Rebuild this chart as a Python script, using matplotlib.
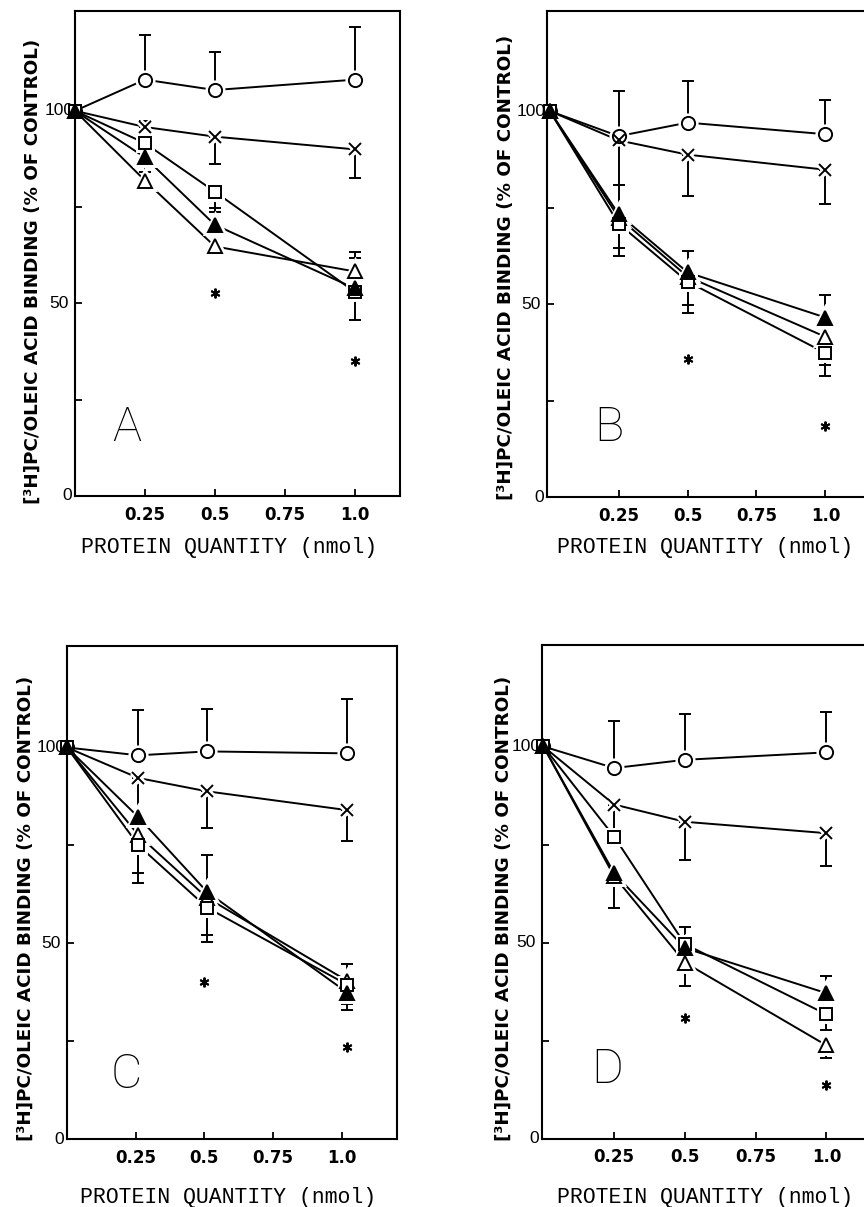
import numpy as np
import matplotlib
matplotlib.use("Agg")
import matplotlib.pyplot as plt
from matplotlib.transforms import offset_copy

nan = np.nan
W, H = 864, 1207  # output size in pixels (dpi 100)

# protein quantity (nmol)
x_dose = [0, 0.25, 0.5, 1.0]
x_dose_c = [0, 0.26, 0.51, 1.02]      # panel C points sit slightly right of the ticks
x_star = [0.5, 1.0]
x_star_c = [0.5, 1.02]
x_ticks = [0.25, 0.5, 0.75, 1.0]
x_tick_labels = ["0.25", "0.5", "0.75", "1.0"]

# series: circle, cross, open square, filled triangle, open triangle
# errors are [down, up]; nan = no bar

# ---- panel A ----
A_circle = [100, 108.1, 105.4, 108.1]
A_cross = [100, 95.8, 93.3, 90.0]
A_square = [100, 91.6, 79.0, 53.0]
A_tri_fill = [100, 87.9, 70.4, 53.9]
A_tri_open = [100, 81.9, 64.8, 58.3]
A_circle_err = [[nan, nan, nan, nan], [nan, 11.5, 9.9, 13.7]]
A_cross_err = [[nan, nan, 7.2, 7.4], [nan, 1.5, nan, nan]]
A_square_err = [[nan, 7.4, 5.2, 7.4], [nan, nan, nan, nan]]
A_tri_fill_err = [[nan, nan, nan, nan], [nan, 1.8, 4.3, 8.0]]
A_tri_open_err = [[nan, nan, nan, nan], [nan, 3.6, nan, 5.1]]
A_star = [52.8, 35.0]

# ---- panel B ----
B_circle = [100, 93.5, 97.0, 94.0]
B_cross = [100, 92.4, 88.7, 84.8]
B_square = [100, 70.8, 55.8, 37.3]
B_tri_fill = [100, 73.3, 58.2, 46.5]
B_tri_open = [100, 72.4, 57.1, 41.5]
B_circle_err = [[nan, nan, nan, nan], [nan, 11.8, 10.8, 8.8]]
B_cross_err = [[nan, 11.6, 10.6, 9.0], [nan, nan, nan, nan]]
B_square_err = [[nan, 8.4, 8.1, 6.0], [nan, nan, nan, nan]]
B_tri_fill_err = [[nan, nan, nan, nan], [nan, 7.5, 5.6, 5.9]]
B_tri_open_err = [[nan, 7.9, 7.3, 7.4], [nan, nan, nan, nan]]
B_star = [35.7, 18.4]

# ---- panel C ----
C_circle = [100, 98.0, 99.0, 98.5]
C_cross = [100, 92.2, 88.8, 84.0]
C_square = [100, 75.0, 59.1, 39.4]
C_tri_fill = [100, 82.2, 63.1, 37.4]
C_tri_open = [100, 77.6, 61.6, 40.4]
C_circle_err = [[nan, nan, nan, nan], [nan, 11.6, 10.9, 13.8]]
C_cross_err = [[nan, nan, 9.3, 7.8], [nan, nan, nan, nan]]
C_square_err = [[nan, 9.5, 8.9, 4.9], [nan, nan, nan, nan]]
C_tri_fill_err = [[nan, nan, nan, 4.4], [nan, 10.0, 9.5, nan]]
C_tri_open_err = [[nan, 9.7, 9.4, nan], [nan, nan, nan, 4.4]]
C_star = [40.2, 23.4]

# ---- panel D ----
D_circle = [100, 94.5, 96.6, 98.5]
D_cross = [100, 85.2, 80.8, 77.9]
D_square = [100, 77.0, 49.6, 31.7]
D_tri_fill = [100, 67.7, 48.6, 37.1]
D_tri_open = [100, 66.9, 44.9, 23.8]
D_circle_err = [[nan, nan, nan, nan], [nan, 12.0, 11.6, 10.4]]
D_cross_err = [[nan, 8.2, 9.8, 8.4], [nan, nan, nan, nan]]
D_square_err = [[nan, 2.4, nan, 4.0], [nan, nan, 4.5, nan]]
D_tri_fill_err = [[nan, 8.9, nan, nan], [nan, nan, nan, 4.4]]
D_tri_open_err = [[nan, nan, 5.9, 3.2], [nan, nan, nan, nan]]
D_star = [30.7, 13.8]

YLABEL = "[³H]PC/OLEIC ACID BINDING (% OF CONTROL)"
XLABEL = "PROTEIN QUANTITY (nmol)"

# marker style per series: (marker, face, size)
STYLES = [("o", "white", 9.5), ("x", "white", 9), ("s", "white", 8.5),
          ("^", "black", 9.5), ("^", "white", 9.5)]
DRAW_ORDER = [0, 1, 4, 2, 3]   # filled triangle last so the x=0 stack looks dark

THIN = ["Roboto", "DejaVu Sans"]
MONO = ["Liberation Mono", "DejaVu Sans Mono"]
plt.rcParams["font.family"] = ["DejaVu Sans"]

fig = plt.figure(figsize=(W / 100, H / 100), dpi=100)


def px_rect(left, top, right, bottom):
    return [left / W, 1 - bottom / H, (right - left) / W, (bottom - top) / H]


def px(x, y):
    return x / W, 1 - y / H


def one_sided(ax, xs, ys, err, side):
    # draw only the bars that exist on one side (0 = down, 1 = up)
    e = np.array(err[side], dtype=float)
    m = ~np.isnan(e)
    if not m.any():
        return
    zero = np.zeros(m.sum())
    yerr = [e[m], zero] if side == 0 else [zero, e[m]]
    ax.errorbar(xs[m], ys[m], yerr=yerr, fmt="none", ecolor="black",
                elinewidth=1.4, capsize=4.5, capthick=1.4, zorder=2)


def panel(rect, xlim, xs, series, errs, stars_x, stars_y, letter, letter_pos,
          ylab_pos, xlab_pos):
    ax = fig.add_axes(rect)
    ax.set_xlim(*xlim)
    ax.set_ylim(0, 126)
    for sp in ax.spines.values():
        sp.set_linewidth(1.5)

    xs = np.array(xs, dtype=float)
    for i in DRAW_ORDER:
        ys = np.array(series[i], dtype=float)
        m, fc, ms = STYLES[i]
        ax.plot(xs, ys, "-", color="black", lw=1.4, zorder=1)
        one_sided(ax, xs, ys, errs[i], 0)
        one_sided(ax, xs, ys, errs[i], 1)
        # white halo so lines stop short of the symbols
        ax.plot(xs[1:], ys[1:], ls="none", marker=m, ms=ms, mfc="white",
                mec="white", mew=5, zorder=3)
        ax.plot(xs, ys, ls="none", marker=m, ms=ms, mfc=fc, mec="black",
                mew=1.4, zorder=4, clip_on=False)

    ax.plot(stars_x, stars_y, ls="none", marker=(6, 2, 0), ms=7, mec="black",
            mew=1.4, zorder=4)

    ax.set_xticks(x_ticks, x_tick_labels)
    ax.tick_params(axis="x", direction="in", length=5, width=1.3, pad=7,
                   labelsize=12)
    for lbl in ax.get_xticklabels():
        lbl.set_fontweight("bold")
    ax.set_yticks([0, 50, 100])
    ax.set_yticks([25, 75], minor=True)
    ax.tick_params(axis="y", which="both", direction="in", length=5,
                   width=1.3, labelleft=False)

    # y tick labels sit close to the spine, "0" closer than the others
    base = ax.get_yaxis_transform()
    for val, off in [(0, -8), (50, -16), (100, -16)]:
        tr = offset_copy(base, fig=fig, x=off, y=0, units="dots")
        ax.text(0, val, str(val), transform=tr, ha="center", va="center",
                fontsize=12.5, family=["Liberation Sans", "DejaVu Sans"],
                zorder=0)

    fig.text(*px(*letter_pos), letter, ha="center", va="center",
             fontsize=35, family=THIN, fontweight="light")
    fig.text(*px(*ylab_pos), YLABEL, rotation=90, ha="center", va="center",
             fontsize=13.2, fontweight="bold")
    fig.text(*px(*xlab_pos), XLABEL, ha="center", va="center",
             fontsize=15.5, family=MONO)
    return ax


panel(px_rect(75, 10.7, 399.5, 496), (0, 1.16), x_dose,
      [A_circle, A_cross, A_square, A_tri_fill, A_tri_open],
      [A_circle_err, A_cross_err, A_square_err, A_tri_fill_err, A_tri_open_err],
      x_star, A_star, "A", (127, 428), (33, 271), (229, 548))

panel(px_rect(547, 10.7, 869.5, 497), (-0.01, 1.16), x_dose,
      [B_circle, B_cross, B_square, B_tri_fill, B_tri_open],
      [B_circle_err, B_cross_err, B_square_err, B_tri_fill_err, B_tri_open_err],
      x_star, B_star, "B", (609, 428), (506, 267), (705, 548))

panel(px_rect(67, 645.7, 396.7, 1139), (0, 1.2), x_dose_c,
      [C_circle, C_cross, C_square, C_tri_fill, C_tri_open],
      [C_circle_err, C_cross_err, C_square_err, C_tri_fill_err, C_tri_open_err],
      x_star_c, C_star, "C", (126, 1075), (26, 908), (228, 1197))

panel(px_rect(542, 644.5, 871.7, 1138.7), (-0.005, 1.16), x_dose,
      [D_circle, D_cross, D_square, D_tri_fill, D_tri_open],
      [D_circle_err, D_cross_err, D_square_err, D_tri_fill_err, D_tri_open_err],
      x_star, D_star, "D", (607, 1070), (504, 908), (705, 1197))

fig.savefig("out.png", dpi=100)
